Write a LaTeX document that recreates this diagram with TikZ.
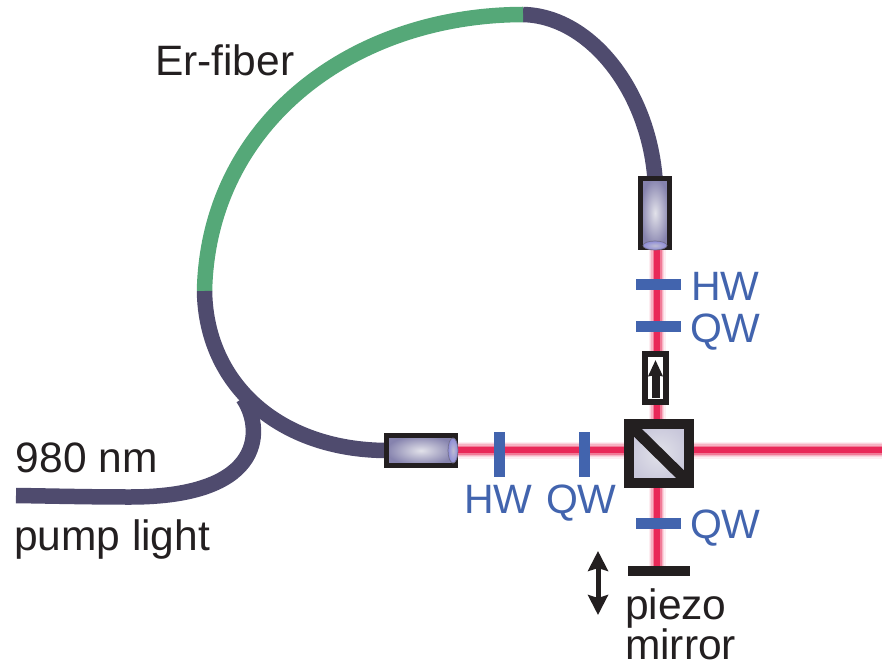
\documentclass[tikz,border=0pt]{standalone}
\usepackage{fontspec}
\setmainfont{Liberation Sans}
\usetikzlibrary{arrows.meta,backgrounds,shapes.geometric}
\definecolor{fiberdark}{HTML}{4F4B6E}
\definecolor{fibergreen}{HTML}{55A878}
\definecolor{plateblue}{HTML}{4264AE}
\definecolor{inkblack}{HTML}{231F20}
\definecolor{beamcore}{HTML}{E92858}
\definecolor{collout}{HTML}{8683AE}
\definecolor{collin}{HTML}{E2E2EA}
\tikzset{
  fiber/.style={line width=15.5pt,color=fiberdark,line cap=butt},
  erfiber/.style={line width=15.5pt,color=fibergreen,line cap=butt},
  beam/.style={line cap=butt,
    preaction={draw,line width=17pt,color=beamcore!8},
    preaction={draw,line width=14.5pt,color=beamcore!20},
    preaction={draw,line width=12pt,color=beamcore!36},
    preaction={draw,line width=9pt,color=beamcore!62},
    preaction={draw,line width=5.5pt,color=beamcore}},
  plate/.style={rectangle,fill=plateblue,inner sep=0pt,outer sep=0pt},
  hplate/.style={plate,minimum width=45pt,minimum height=11pt},
  vplate/.style={plate,minimum width=11pt,minimum height=45pt},
  coll/.style={rectangle,draw=inkblack,line width=5pt,inner color=collin,outer color=collout,inner sep=0pt,outer sep=0pt},
  lens/.style={ellipse,draw=fiberdark!80,line width=0.7pt,inner color=collin!60!collout,outer color=collout!70!blue!70,inner sep=0pt,outer sep=0pt},
  lbl/.style={anchor=base west,inner sep=0pt,outer sep=0pt,text=inkblack,font=\fontsize{42.5}{42.5}\selectfont},
  blbl/.style={lbl,text=plateblue,font=\fontsize{41}{41}\selectfont},
}
\begin{document}
\begin{tikzpicture}[x=1pt,y=-1pt]
\useasboundingbox (0,0) rectangle (882,668);
% optical components
\node[coll,minimum width=29pt,minimum height=69pt] (colltop) at (655,213) {};
\node[lens,minimum width=24pt,minimum height=9pt] (lenstop) at (655,245.5) {};
\node[coll,minimum width=69pt,minimum height=30pt] (collleft) at (421,450.5) {};
\node[lens,minimum width=10pt,minimum height=25pt] (lensleft) at (453,450.5) {};
\node[hplate] (hwtop) at (658.5,284) {};
\node[hplate] (qwtop) at (658.5,326.5) {};
\node[rectangle,draw=inkblack,line width=6pt,fill=white,minimum width=21pt,minimum height=48pt,inner sep=0pt,outer sep=0pt] (iso) at (655.5,378) {};
\node[vplate] (hwleft) at (499.5,454.5) {};
\node[vplate] (qwleft) at (584.5,454.5) {};
\node[rectangle,draw=inkblack,line width=10pt,inner color=collin,outer color=collout!45!white,minimum width=60pt,minimum height=59pt,inner sep=0pt,outer sep=0pt] (cube) at (659,453.5) {};
\node[hplate] (qwbot) at (658.5,523.5) {};
\node[rectangle,fill=inkblack,minimum width=62pt,minimum height=10pt,inner sep=0pt,outer sep=0pt] (mirror) at (659,571) {};
\coordinate (beamx) at (657,450);
\coordinate (beamend) at (882,450);
\coordinate (isotail) at (655.5,398);
\coordinate (isotip) at (655.5,360);
\coordinate (pzt) at (598,551);
\coordinate (pzb) at (598,615);
% cube diagonal
\draw[inkblack,line width=11pt,line cap=butt] (cube.north west) -- (cube.south east);
% isolator arrow
\draw[inkblack,line width=8pt,-{Stealth[length=16pt,width=14pt,inset=1pt]}] (isotail) -- (isotip);
% piezo arrow
\draw[inkblack,line width=5pt,{Stealth[length=20pt,width=20pt,inset=3pt]}-{Stealth[length=20pt,width=20pt,inset=3pt]}] (pzt) -- (pzb);
% beams and fibers beneath the components
\begin{scope}[on background layer]
\path[beam] (colltop.south -| beamx) -- (cube.north -| beamx);
\path[beam] (collleft.east |- beamx) -- (cube.west |- beamx);
\path[beam] (cube.east |- beamx) -- (beamend);
\path[beam] (cube.south -| beamx) -- (mirror.north -| beamx);
\coordinate (joinA) at (204.5,291);
\coordinate (joinB) at (523,14.5);
\coordinate (joinC) at (243,398);
\draw[fiber] (joinB) .. controls (590,16) and (648,90) .. (colltop.north);
\draw[erfiber] (joinA) .. controls (208,125) and (350,15) .. (joinB);
\draw[fiber] (joinA) .. controls (206,385) and (280,450) .. (collleft.west);
\draw[fiber] (joinC) .. controls (262,425) and (270,497) .. (130,497) .. controls (90,497) and (50,496) .. (16,495.5);
\end{scope}
% labels
\node[lbl] (erlabel) at (155,76) {Er-fiber};
\node[lbl] (nmlabel) at (16,472) {980 nm};
\node[lbl] (pumplabel) at (14,550) {pump light};
\node[lbl] (piezolabel) at (625,619) {piezo};
\node[lbl] (mirrorlabel) at (625,659.5) {mirror};
\node[blbl] (hwtoplabel) at (691,300) {HW};
\node[blbl] (qwtoplabel) at (690,342) {QW};
\node[blbl] (hwleftlabel) at (464,513) {HW};
\node[blbl] (qwleftlabel) at (546,513) {QW};
\node[blbl] (qwbotlabel) at (690,538) {QW};
\end{tikzpicture}
\end{document}
